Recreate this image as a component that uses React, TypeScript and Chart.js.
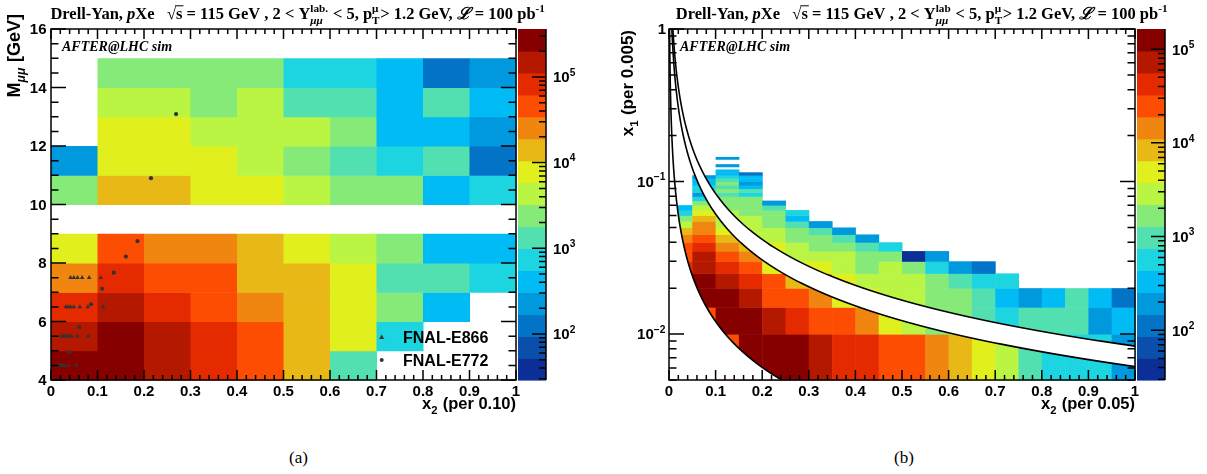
import React, { useEffect, useRef } from "react";
import { Chart, registerables } from "chart.js";

Chart.register(...registerables);

const SANS = "'Liberation Sans', Arial, Helvetica, sans-serif";
const SERIF = "'Liberation Serif', 'Times New Roman', serif";

// 16-level rainbow palette (bottom -> top of the colour bar)
const paletteColors = [
  "#0b2e97", "#0a4fab", "#0273c6", "#0199dd", "#01bcf4", "#1dd5e0", "#52e0b0", "#85ea78",
  "#b9f542", "#e1ef1c", "#e8b817", "#f08610", "#fc4d03", "#e52a00", "#b41900", "#870000",
];

// ---------------- panel (a): M_mumu vs x2 ----------------
const x2EdgesA = [0, 0.1, 0.2, 0.3, 0.4, 0.5, 0.6, 0.7, 0.8, 0.9, 1.0];
const massLowEdgesA = [4, 5, 6, 7, 8, 9, 10, 11, 12, 13, 14];
const massBinWidthA = 1;
// rows: mass bins (4-5 ... 14-15), columns: x2 bins
const countsA = [
  [262000, 271000, 147000, 80500, 45600, 13800, 1330, 0, 0, 0],
  [145000, 266000, 148000, 81900, 44700, 14100, 7780, 731, 0, 0],
  [80100, 143000, 82300, 45900, 25300, 13700, 7640, 2390, 412, 0],
  [24800, 81500, 44900, 45400, 14000, 13600, 7810, 1320, 1335, 739],
  [7700, 45300, 25200, 24900, 13900, 7750, 4310, 2370, 405, 414],
  [0, 0, 0, 0, 0, 0, 0, 0, 0, 0],
  [2380, 14050, 13750, 7690, 7800, 4280, 2400, 2370, 408, 742],
  [229, 7720, 7680, 7760, 4320, 2390, 1318, 733, 1330, 127],
  [0, 7740, 7710, 4300, 4270, 4330, 2380, 411, 404, 226],
  [0, 4290, 4310, 2395, 4280, 1328, 1322, 407, 1316, 410],
  [0, 2390, 2378, 2392, 2386, 738, 730, 409, 125, 228],
];
const zRangeA = [29, 363000];
const massRangeA = [4, 16];
const massTickLabels = [4, 6, 8, 10, 12, 14, 16];

const e772X = [0.039, 0.061, 0.086, 0.11, 0.135, 0.161, 0.186, 0.215, 0.269];
const e772Y = [4.95, 5.81, 6.59, 7.12, 7.67, 8.22, 8.75, 10.9, 13.09];
const e866X = [
  0.042, 0.049, 0.057, 0.067, 0.082, 0.107,
  0.032, 0.037, 0.042, 0.049, 0.062, 0.079, 0.112,
  0.023, 0.028, 0.032, 0.037, 0.044, 0.057, 0.08,
  0.014, 0.018, 0.023, 0.028, 0.037, 0.055,
];
const e866Y = [
  7.5, 7.5, 7.5, 7.5, 7.5, 7.5,
  6.5, 6.5, 6.5, 6.5, 6.5, 6.5, 6.5,
  5.5, 5.5, 5.5, 5.5, 5.5, 5.5, 5.5,
  4.5, 4.5, 4.5, 4.5, 4.5, 4.5,
];

const x2TickValues = [0, 0.1, 0.2, 0.3, 0.4, 0.5, 0.6, 0.7, 0.8, 0.9, 1];
const x2TickLabels = ["0", "0.1", "0.2", "0.3", "0.4", "0.5", "0.6", "0.7", "0.8", "0.9", "1"];

// ---------------- panel (b): x1 vs x2 ----------------
const x2EdgesB = [0, 0.05, 0.1, 0.15, 0.2, 0.25, 0.3, 0.35, 0.4, 0.45, 0.5, 0.55, 0.6, 0.65, 0.7, 0.75, 0.8, 0.85, 0.9, 0.95, 1.0];
const x1StartB = 0.005;
const x1BinWidthB = 0.005;
// one list per x2 column, x1 bins from 0.005 upwards (0 = empty)
const countsB = [
  [0, 0, 0, 42000, 43500, 25500, 24000, 14800, 8600, 2900, 1650, 560, 330],
  [0, 24500, 128000, 124000, 74000, 71000, 43000, 25200, 14200, 14700, 8300, 5000, 2850, 1700, 575, 190, 565, 580, 335, 330, 198],
  [25000, 127000, 122000, 72500, 42500, 24600, 14300, 8400, 4900, 2870, 2900, 2860, 1690, 1670, 1700, 985, 1660, 975, 1690, 990, 570, 338, 331, 0, 193, 0, 0, 197],
  [125000, 121000, 73800, 42200, 25300, 14600, 8550, 2890, 2840, 2920, 2880, 1710, 1675, 1650, 1690, 568, 978, 336, 196, 332, 340, 113],
  [126500, 72800, 24700, 25100, 4950, 4880, 5010, 2870, 2900, 1670, 1685, 1700, 980, 194],
  [123000, 43100, 24800, 8400, 4920, 2890, 2860, 1680, 1660, 985, 335, 575],
  [73500, 25300, 14400, 8500, 4960, 2870, 1670, 1690, 975, 192],
  [42900, 24600, 4930, 4970, 2880, 2850, 1700, 982, 197],
  [42300, 14600, 4900, 2890, 1680, 1670, 990, 193],
  [25100, 4950, 2870, 2880, 2900, 1690, 570],
  [24700, 2860, 2890, 2900, 1670, 39],
  [14400, 1680, 1690, 1670, 574, 196],
  [8450, 1700, 1660, 985, 194],
  [4960, 978, 990, 569, 115],
  [2880, 571, 333, 575],
  [985, 980, 196],
  [572, 975, 336],
  [578, 983, 979],
  [566, 195, 333],
  [197, 338, 113],
];
const zRangeB = [29.5, 164000];
const x1RangeB = [0.005, 1];
const sqrtS = 115; // GeV
const massMinB = 4; // GeV, lower kinematic curve
const upsilonBand = [9, 10.5]; // GeV, excluded band
const x1TickLabels = [
  { v: 1, base: "1", exp: "" },
  { v: 0.1, base: "10", exp: "\u22121" },
  { v: 0.01, base: "10", exp: "\u22122" },
];
const zTickDecades = [2, 3, 4, 5];

// ---------------- helpers ----------------
type Seg = { t?: string; it?: boolean; sup?: string; sub?: string; subIt?: boolean; over?: boolean };

function drawRich(
  ctx: CanvasRenderingContext2D, segs: Seg[], x: number, y: number, size: number,
  family: string, weight: string, align: "left" | "right" | "center"
): number {
  const small = size * 0.68;
  const font = (s: number, it?: boolean) => `${it ? "italic " : ""}${weight} ${s}px ${family}`;
  const items: { text: string; font: string; dx: number; dy: number; w: number; over?: boolean }[] = [];
  let w = 0;
  for (const s of segs) {
    if (s.t !== undefined) {
      const f = font(size, s.it);
      ctx.font = f;
      const tw = ctx.measureText(s.t).width;
      items.push({ text: s.t, font: f, dx: w, dy: 0, w: tw, over: s.over });
      w += tw;
    } else {
      let adv = 0;
      if (s.sup !== undefined) {
        const f = font(small, false);
        ctx.font = f;
        const tw = ctx.measureText(s.sup).width;
        items.push({ text: s.sup, font: f, dx: w, dy: -size * 0.45, w: tw });
        adv = Math.max(adv, tw);
      }
      if (s.sub !== undefined) {
        const f = font(small, s.subIt);
        ctx.font = f;
        const tw = ctx.measureText(s.sub).width;
        items.push({ text: s.sub, font: f, dx: w, dy: size * 0.3, w: tw });
        adv = Math.max(adv, tw);
      }
      w += adv + size * 0.04;
    }
  }
  const x0 = align === "right" ? x - w : align === "center" ? x - w / 2 : x;
  ctx.textAlign = "left";
  ctx.textBaseline = "alphabetic";
  ctx.fillStyle = "#000";
  ctx.strokeStyle = "#000";
  for (const it of items) {
    ctx.font = it.font;
    ctx.fillText(it.text, x0 + it.dx, y + it.dy);
    if (it.over) {
      ctx.beginPath();
      ctx.lineWidth = 1;
      ctx.moveTo(x0 + it.dx - 1, y - size * 0.8);
      ctx.lineTo(x0 + it.dx + it.w + 1, y - size * 0.8);
      ctx.stroke();
    }
  }
  return w;
}

function colorIndex(v: number, zr: number[]) {
  const f = (Math.log10(v) - Math.log10(zr[0])) / (Math.log10(zr[1]) - Math.log10(zr[0]));
  return Math.max(0, Math.min(paletteColors.length - 1, Math.floor(f * paletteColors.length)));
}

function drawColorBar(ctx: CanvasRenderingContext2D, area: any, zs: any, zr: number[]) {
  const left = area.right + 2;
  const right = left + 28;
  const n = paletteColors.length;
  const lmin = Math.log10(zr[0]);
  const lmax = Math.log10(zr[1]);
  for (let i = 0; i < n; i++) {
    const lo = Math.pow(10, lmin + ((lmax - lmin) * i) / n);
    const hi = Math.pow(10, lmin + ((lmax - lmin) * (i + 1)) / n);
    const ya = zs.getPixelForValue(lo);
    const yb = zs.getPixelForValue(hi);
    ctx.fillStyle = paletteColors[i];
    ctx.fillRect(left, yb, right - left, ya - yb + 0.6);
  }
  ctx.strokeStyle = "#000";
  ctx.lineWidth = 1.5;
  ctx.beginPath();
  ctx.moveTo(right, area.top);
  ctx.lineTo(right, area.bottom);
  for (let e = 0; e <= 6; e++) {
    for (let m = 1; m <= 9; m++) {
      const v = m * Math.pow(10, e);
      if (v < zr[0] || v > zr[1]) continue;
      const y = zs.getPixelForValue(v);
      const len = m === 1 ? 14 : 7;
      ctx.moveTo(right, y);
      ctx.lineTo(right - len, y);
    }
  }
  ctx.stroke();
  for (const e of zTickDecades) {
    const y = zs.getPixelForValue(Math.pow(10, e));
    drawRich(ctx, [{ t: "10" }, { sup: String(e) }], right + 7, y + 5.4, 15, SANS, "bold", "left");
  }
}

function drawFrame(ctx: CanvasRenderingContext2D, area: any, xs: any, ys: any, yMajor: number[], yMinor: number[]) {
  ctx.save();
  ctx.strokeStyle = "#000";
  ctx.lineWidth = 1.5;
  ctx.strokeRect(area.left, area.top, area.right - area.left, area.bottom - area.top);
  ctx.beginPath();
  for (let i = 0; i <= 50; i++) {
    const v = i * 0.02;
    const p = xs.getPixelForValue(v);
    const len = i % 5 === 0 ? 10 : 5;
    ctx.moveTo(p, area.bottom);
    ctx.lineTo(p, area.bottom - len);
    ctx.moveTo(p, area.top);
    ctx.lineTo(p, area.top + len);
  }
  for (const v of yMajor) {
    const p = ys.getPixelForValue(v);
    ctx.moveTo(area.left, p);
    ctx.lineTo(area.left + 15, p);
    ctx.moveTo(area.right, p);
    ctx.lineTo(area.right - 15, p);
  }
  for (const v of yMinor) {
    const p = ys.getPixelForValue(v);
    ctx.moveTo(area.left, p);
    ctx.lineTo(area.left + 7.5, p);
    ctx.moveTo(area.right, p);
    ctx.lineTo(area.right - 7.5, p);
  }
  ctx.stroke();
  // x tick labels
  ctx.fillStyle = "#000";
  ctx.font = `bold 15px ${SANS}`;
  ctx.textAlign = "center";
  ctx.textBaseline = "alphabetic";
  x2TickValues.forEach((v, i) => ctx.fillText(x2TickLabels[i], xs.getPixelForValue(v), area.bottom + 16));
  ctx.restore();
}

function titleSegs(lab: string): Seg[] {
  return [
    { t: "Drell-Yan, " }, { t: "p", it: true }, { t: "Xe   " }, { t: "\u221A" }, { t: "s", over: true },
    { t: " = 115 GeV , 2 < Y" }, { sup: lab, sub: "\u03BC\u03BC", subIt: true },
    { t: " < 5, p" }, { sup: "\u03BC", sub: "T" }, { t: "> 1.2 GeV, " }, { t: "\u2112", it: true },
    { t: " = 100 pb" }, { sup: "-1" },
  ];
}

function drawRotated(ctx: CanvasRenderingContext2D, segs: Seg[], x: number, yEnd: number, size: number) {
  ctx.save();
  ctx.translate(x, yEnd);
  ctx.rotate(-Math.PI / 2);
  drawRich(ctx, segs, 0, 0, size, SANS, "bold", "right");
  ctx.restore();
}

// ---------------- plugins ----------------
const panelAPlugin = {
  id: "panelA",
  beforeDatasetsDraw(chart: any) {
    const { ctx, scales } = chart;
    const xs = scales.x;
    const ys = scales.y;
    ctx.save();
    for (let r = 0; r < countsA.length; r++) {
      for (let c = 0; c < countsA[r].length; c++) {
        const v = countsA[r][c];
        if (!(v > 0)) continue;
        const xa = xs.getPixelForValue(x2EdgesA[c]);
        const xb = xs.getPixelForValue(x2EdgesA[c + 1]);
        const ya = ys.getPixelForValue(massLowEdgesA[r]);
        const yb = ys.getPixelForValue(massLowEdgesA[r] + massBinWidthA);
        ctx.fillStyle = paletteColors[colorIndex(v, zRangeA)];
        ctx.fillRect(xa, yb, xb - xa + 0.5, ya - yb + 0.5);
      }
    }
    ctx.restore();
  },
  afterDraw(chart: any) {
    const { ctx, chartArea: area, scales } = chart;
    const xs = scales.x;
    const ys = scales.y;
    ctx.save();
    drawColorBar(ctx, area, scales.z, zRangeA);
    const yMaj: number[] = [];
    const yMin: number[] = [];
    for (let v = massRangeA[0]; v <= massRangeA[1] + 1e-9; v += 0.5) (v % 2 === 0 ? yMaj : yMin).push(v);
    drawFrame(ctx, area, xs, ys, yMaj, yMin);
    ctx.fillStyle = "#000";
    ctx.font = `bold 15px ${SANS}`;
    ctx.textAlign = "right";
    for (const v of massTickLabels) ctx.fillText(String(v), area.left - 4.5, ys.getPixelForValue(v) + 5.4);
    // titles
    drawRich(ctx, titleSegs("lab."), 298, 19, 16.5, SERIF, "bold", "center");
    drawRich(ctx, [{ t: "x" }, { sub: "2" }, { t: " (per 0.10)" }], area.right, 409, 16.5, SANS, "bold", "right");
    drawRotated(ctx, [{ t: "M" }, { sub: "\u03BC\u03BC", subIt: true }, { t: " [GeV]" }], 20, 14, 18);
    drawRich(ctx, [{ t: "AFTER@LHC sim", it: true }], 62, 51, 14, SERIF, "bold", "left");
    // legend
    ctx.fillStyle = "#333";
    ctx.beginPath();
    ctx.moveTo(381.7, 334.5);
    ctx.lineTo(384.2, 339);
    ctx.lineTo(379.2, 339);
    ctx.closePath();
    ctx.fill();
    ctx.beginPath();
    ctx.arc(381.7, 360, 2, 0, Math.PI * 2);
    ctx.fill();
    drawRich(ctx, [{ t: "FNAL-E866" }], 403, 343, 16, SANS, "bold", "left");
    drawRich(ctx, [{ t: "FNAL-E772" }], 403, 366, 16, SANS, "bold", "left");
    ctx.restore();
  },
};

function curvePoints(xs: any, ys: any, mass: number, descending: boolean) {
  const pts: [number, number][] = [];
  const lo = Math.log10(x1RangeB[0]) - 0.1;
  const hi = Math.log10(x1RangeB[1]) + 0.05;
  const n = 300;
  for (let i = 0; i <= n; i++) {
    const l = descending ? hi - ((hi - lo) * i) / n : lo + ((hi - lo) * i) / n;
    const x1 = Math.pow(10, l);
    const x2 = (mass * mass) / (sqrtS * sqrtS) / x1;
    pts.push([xs.getPixelForValue(Math.min(x2, 3)), ys.getPixelForValue(x1)]);
  }
  return pts;
}

const panelBPlugin = {
  id: "panelB",
  beforeDatasetsDraw(chart: any) {
    const { ctx, chartArea: area, scales } = chart;
    const xs = scales.x;
    const ys = scales.y;
    ctx.save();
    for (let c = 0; c < countsB.length; c++) {
      const col = countsB[c];
      const xa = xs.getPixelForValue(x2EdgesB[c]);
      const xb = xs.getPixelForValue(x2EdgesB[c + 1]);
      for (let j = 0; j < col.length; j++) {
        const v = col[j];
        if (!(v > 0)) continue;
        const lo = x1StartB + j * x1BinWidthB;
        const ya = ys.getPixelForValue(lo);
        const yb = ys.getPixelForValue(lo + x1BinWidthB);
        ctx.fillStyle = paletteColors[colorIndex(v, zRangeB)];
        ctx.fillRect(xa, yb, xb - xa + 0.5, ya - yb + 0.5);
      }
    }
    // masks
    ctx.beginPath();
    ctx.rect(area.left, area.top, area.right - area.left, area.bottom - area.top);
    ctx.clip();
    ctx.fillStyle = "#fff";
    const low = curvePoints(xs, ys, massMinB, true);
    ctx.beginPath();
    low.forEach(([px, py], i) => (i === 0 ? ctx.moveTo(px, py) : ctx.lineTo(px, py)));
    ctx.lineTo(area.left - 5, area.bottom + 20);
    ctx.lineTo(area.left - 5, area.top - 20);
    ctx.closePath();
    ctx.fill();
    const b1 = curvePoints(xs, ys, upsilonBand[0], false);
    const b2 = curvePoints(xs, ys, upsilonBand[1], true);
    ctx.beginPath();
    b1.forEach(([px, py], i) => (i === 0 ? ctx.moveTo(px, py) : ctx.lineTo(px, py)));
    b2.forEach(([px, py]) => ctx.lineTo(px, py));
    ctx.closePath();
    ctx.fill();
    ctx.strokeStyle = "#000";
    ctx.lineWidth = 1.6;
    for (const m of [massMinB, upsilonBand[0], upsilonBand[1]]) {
      const pts = curvePoints(xs, ys, m, false);
      ctx.beginPath();
      pts.forEach(([px, py], i) => (i === 0 ? ctx.moveTo(px, py) : ctx.lineTo(px, py)));
      ctx.stroke();
    }
    ctx.restore();
  },
  afterDraw(chart: any) {
    const { ctx, chartArea: area, scales } = chart;
    const xs = scales.x;
    const ys = scales.y;
    ctx.save();
    drawColorBar(ctx, area, scales.z, zRangeB);
    const yMaj: number[] = [];
    const yMin: number[] = [];
    for (let e = -3; e <= 0; e++) {
      for (let m = 1; m <= 9; m++) {
        const v = m * Math.pow(10, e);
        if (v < x1RangeB[0] - 1e-12 || v > x1RangeB[1] + 1e-12) continue;
        (m === 1 ? yMaj : yMin).push(v);
      }
    }
    drawFrame(ctx, area, xs, ys, yMaj, yMin);
    for (const tk of x1TickLabels) {
      const segs: Seg[] = tk.exp ? [{ t: tk.base }, { sup: tk.exp }] : [{ t: tk.base }];
      drawRich(ctx, segs, area.left - 3, ys.getPixelForValue(tk.v) + 5.4, 15, SANS, "bold", "right");
    }
    drawRich(ctx, titleSegs("lab"), 322, 19, 16.5, SERIF, "bold", "center");
    drawRich(ctx, [{ t: "x" }, { sub: "2" }, { t: " (per 0.05)" }], area.right, 409, 16.5, SANS, "bold", "right");
    drawRotated(ctx, [{ t: "x" }, { sub: "1" }, { t: " (per 0.005)" }], 33, 30, 17);
    drawRich(ctx, [{ t: "AFTER@LHC sim", it: true }], 80, 51, 14, SERIF, "bold", "left");
    ctx.restore();
  },
};

function configA(): any {
  return {
    type: "scatter",
    data: {
      datasets: [
        {
          label: "FNAL-E866",
          data: e866X.map((x, i) => ({ x, y: e866Y[i] })),
          pointStyle: "triangle",
          pointRadius: 2.6,
          pointBackgroundColor: "#333",
          pointBorderColor: "#333",
          pointBorderWidth: 0,
        },
        {
          label: "FNAL-E772",
          data: e772X.map((x, i) => ({ x, y: e772Y[i] })),
          pointStyle: "circle",
          pointRadius: 2.1,
          pointBackgroundColor: "#333",
          pointBorderColor: "#333",
          pointBorderWidth: 0,
        },
      ],
    },
    options: {
      responsive: false,
      animation: false,
      events: [],
      layout: { padding: { left: 51, right: 84, top: 29, bottom: 60 } },
      scales: {
        x: { type: "linear", min: 0, max: 1, display: false },
        y: { type: "linear", min: massRangeA[0], max: massRangeA[1], display: false },
        z: { type: "logarithmic", axis: "y", position: "right", min: zRangeA[0], max: zRangeA[1], display: false },
      },
      plugins: { legend: { display: false }, tooltip: { enabled: false }, title: { display: false } },
    },
    plugins: [panelAPlugin],
  };
}

function configB(): any {
  return {
    type: "scatter",
    data: { datasets: [] },
    options: {
      responsive: false,
      animation: false,
      events: [],
      layout: { padding: { left: 69, right: 72, top: 29, bottom: 60 } },
      scales: {
        x: { type: "linear", min: 0, max: 1, display: false },
        y: { type: "logarithmic", min: x1RangeB[0], max: x1RangeB[1], display: false },
        z: { type: "logarithmic", axis: "y", position: "right", min: zRangeB[0], max: zRangeB[1], display: false },
      },
      plugins: { legend: { display: false }, tooltip: { enabled: false }, title: { display: false } },
    },
    plugins: [panelBPlugin],
  };
}

export default function App() {
  const refA = useRef<HTMLCanvasElement>(null);
  const refB = useRef<HTMLCanvasElement>(null);
  useEffect(() => {
    const a = new Chart(refA.current as HTMLCanvasElement, configA());
    const b = new Chart(refB.current as HTMLCanvasElement, configB());
    return () => {
      a.destroy();
      b.destroy();
    };
  }, []);
  return (
    <div style={{ position: "absolute", left: 0, top: 0, width: 1207, height: 474, background: "#fff", overflow: "hidden" }}>
      <canvas ref={refA} width={600} height={440} style={{ position: "absolute", left: 0, top: 0, width: 600, height: 440 }} />
      <canvas ref={refB} width={607} height={440} style={{ position: "absolute", left: 600, top: 0, width: 607, height: 440 }} />
      <div style={{ position: "absolute", left: 289, top: 448, font: `17px ${SERIF}`, color: "#000" }}>(a)</div>
      <div style={{ position: "absolute", left: 894, top: 448, font: `17px ${SERIF}`, color: "#000" }}>(b)</div>
    </div>
  );
}
